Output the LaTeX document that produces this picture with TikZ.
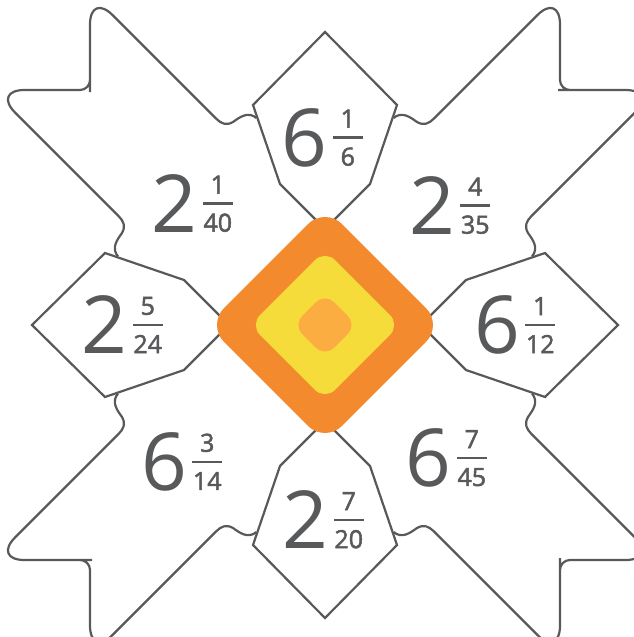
\documentclass[tikz,border=0pt]{standalone}
\usepackage{fontspec}
\setmainfont{Open Sans}
\newfontfamily\fracfont[FakeBold=2]{Open Sans}
\usetikzlibrary{positioning,shapes.geometric}
\definecolor{inkgray}{HTML}{58595B}
\definecolor{coreorange}{HTML}{F48A2E}
\definecolor{coreyellow}{HTML}{F5DC3A}
\definecolor{corecentre}{HTML}{FBAD42}

\begin{document}
\begin{tikzpicture}[
  x=1pt,y=-1pt,
  piece/.style={draw=inkgray,line width=2.2pt},
  core/.style={diamond,inner sep=0pt,draw=none},
  whole/.style={inner sep=0pt,text=inkgray,font=\fontsize{80pt}{80pt}\selectfont},
  fracbar/.style={fill=inkgray,inner sep=0pt,minimum width=30pt,minimum height=2.2pt},
  fracnum/.style={inner sep=0pt,text=inkgray,font=\fracfont\fontsize{25pt}{25pt}\selectfont}
]
\clip (0,0) rectangle (634,637);

% one pentagon and one swallowtail piece, turned four times
\foreach \a in {0,90,180,270}{
  \begin{scope}[rotate around={\a:(325,325)}]
    \draw[piece] (325,32) -- (397,105) -- (370,184) -- (325,229) -- (280,184) -- (253,105) -- cycle;
    \draw[piece] (256.5,118) .. controls (248,111) and (240,117) .. (233,122)
      .. controls (226,126) and (221,123.5) .. (216,118.5)
      [rounded corners=32pt] -- (90,-7.5) -- (90,60)
      [rounded corners=10pt] -- (90,90) -- (60,90)
      [rounded corners=32pt] -- (-7.5,90) -- (50,147.5)
      [sharp corners] -- (118.5,216)
      .. controls (123.5,221) and (126,226) .. (122,233)
      .. controls (117,240) and (111,248) .. (118,256.5);
  \end{scope}
}

% centre
\node[core,fill=coreorange,minimum size=236pt,rounded corners=24pt] (outer) at (325,325) {};
\node[core,fill=coreyellow,minimum size=150pt,rounded corners=14pt] (middle) at (outer.center) {};
\node[core,fill=corecentre,minimum size=64pt,rounded corners=13pt] (inner) at (outer.center) {};

% mixed numbers
\node[whole] (nint) at (304.5,137.5) {6};
\node[fracbar,right=5pt of nint] (nbar) {};
\node[fracnum,above=8.5pt of nbar] (nnum) {1};
\node[fracnum,below=8.5pt of nbar] (nden) {6};

\node[whole] (nwint) at (174.5,203.5) {2};
\node[fracbar,right=5pt of nwint] (nwbar) {};
\node[fracnum,above=8.5pt of nwbar] (nwnum) {1};
\node[fracnum,below=8.5pt of nwbar] (nwden) {40};

\node[whole] (neint) at (432,205.5) {2};
\node[fracbar,right=5pt of neint] (nebar) {};
\node[fracnum,above=8.5pt of nebar] (nenum) {4};
\node[fracnum,below=8.5pt of nebar] (neden) {35};

\node[whole] (wint) at (104.5,325) {2};
\node[fracbar,right=5pt of wint] (wbar) {};
\node[fracnum,above=8.5pt of wbar] (wnum) {5};
\node[fracnum,below=8.5pt of wbar] (wden) {24};

\node[whole] (eint) at (497,325) {6};
\node[fracbar,right=5pt of eint] (ebar) {};
\node[fracnum,above=8.5pt of ebar] (enum) {1};
\node[fracnum,below=8.5pt of ebar] (eden) {12};

\node[whole] (swint) at (164,462) {6};
\node[fracbar,right=5pt of swint] (swbar) {};
\node[fracnum,above=8.5pt of swbar] (swnum) {3};
\node[fracnum,below=8.5pt of swbar] (swden) {14};

\node[whole] (seint) at (428.5,458) {6};
\node[fracbar,right=5pt of seint] (sebar) {};
\node[fracnum,above=8.5pt of sebar] (senum) {7};
\node[fracnum,below=8.5pt of sebar] (seden) {45};

\node[whole] (sint) at (305.5,520) {2};
\node[fracbar,right=5pt of sint] (sbar) {};
\node[fracnum,above=8.5pt of sbar] (snum) {7};
\node[fracnum,below=8.5pt of sbar] (sden) {20};
\end{tikzpicture}
\end{document}
